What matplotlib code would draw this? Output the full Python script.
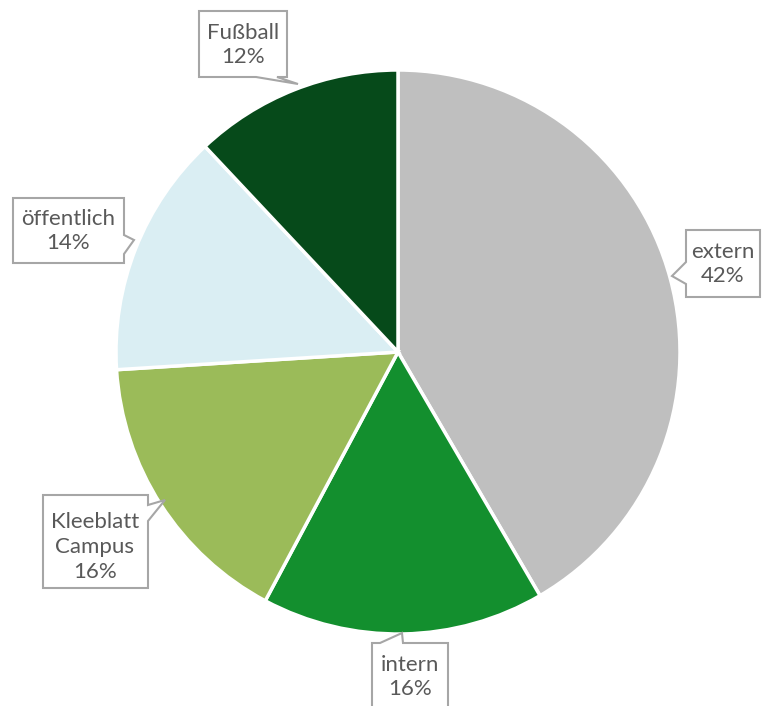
import matplotlib.pyplot as plt
from matplotlib.patches import Polygon

plt.rcParams['font.family'] = ['Lato', 'DejaVu Sans']

labels = ['extern', 'intern', 'Kleeblatt\nCampus', 'öffentlich', 'Fußball']
shares = [41.6, 16.2, 16.2, 14.0, 12.0]
pct_labels = ['42%', '16%', '16%', '14%', '12%']
colors = ['#BFBFBF', '#138F2E', '#9BBB59', '#DAEEF3', '#064A1A']

W, H = 762, 706
fig = plt.figure(figsize=(W / 100, H / 100), dpi=100)
ax = fig.add_axes([0, 0, 1, 1])

cx, cy, r = 398, H - 352, 282
ax.pie(shares, colors=colors, startangle=90, counterclock=False,
       center=(cx, cy), radius=r,
       wedgeprops=dict(edgecolor='white', linewidth=2.5))

# pie() resets the limits, so set them afterwards
ax.set_xlim(0, W)
ax.set_ylim(0, H)
ax.set_aspect('equal')
ax.axis('off')

# callout boxes (pixel coords, y down): box (x0, y0, x1, y1), pointer side, base span, tip
callouts = [
    ((686, 230, 760, 297), 'left', (262, 284), (672, 276)),
    ((372, 643, 448, 720), 'top', (380, 403), (402, 633)),
    ((43, 495, 148, 588), 'right', (505, 521), (165, 500)),
    ((13, 198, 124, 263), 'right', (235, 254), (134, 240)),
    ((199, 11, 287, 77), 'bottom', (256, 277), (298, 84)),
]
# text centres (pixel coords, y down)
text_pos = [(723, 264), (410, 677), (95, 547), (68, 231), (243, 45)]

for (box, side, base, tip), (tx0, ty0), lab, pct in zip(callouts, text_pos, labels, pct_labels):
    x0, y0, x1, y1 = box
    b0, b1 = base
    tx, ty = tip
    if side == 'left':
        pts = [(x0, y0), (x1, y0), (x1, y1), (x0, y1), (x0, b1), (tx, ty), (x0, b0)]
    elif side == 'right':
        pts = [(x0, y0), (x1, y0), (x1, b0), (tx, ty), (x1, b1), (x1, y1), (x0, y1)]
    elif side == 'top':
        pts = [(x0, y0), (b0, y0), (tx, ty), (b1, y0), (x1, y0), (x1, y1), (x0, y1)]
    else:
        pts = [(x0, y0), (x1, y0), (x1, y1), (b1, y1), (tx, ty), (b0, y1), (x0, y1)]
    pts = [(px, H - py) for px, py in pts]
    ax.add_patch(Polygon(pts, closed=True, facecolor='white', edgecolor='#A6A6A6',
                         linewidth=1.5, zorder=5, clip_on=False))
    ax.text(tx0, H - ty0, f'{lab}\n{pct}', ha='center', va='center', color='#595959',
            fontsize=16, linespacing=1.3, zorder=6)

fig.savefig('out.png', dpi=100)
